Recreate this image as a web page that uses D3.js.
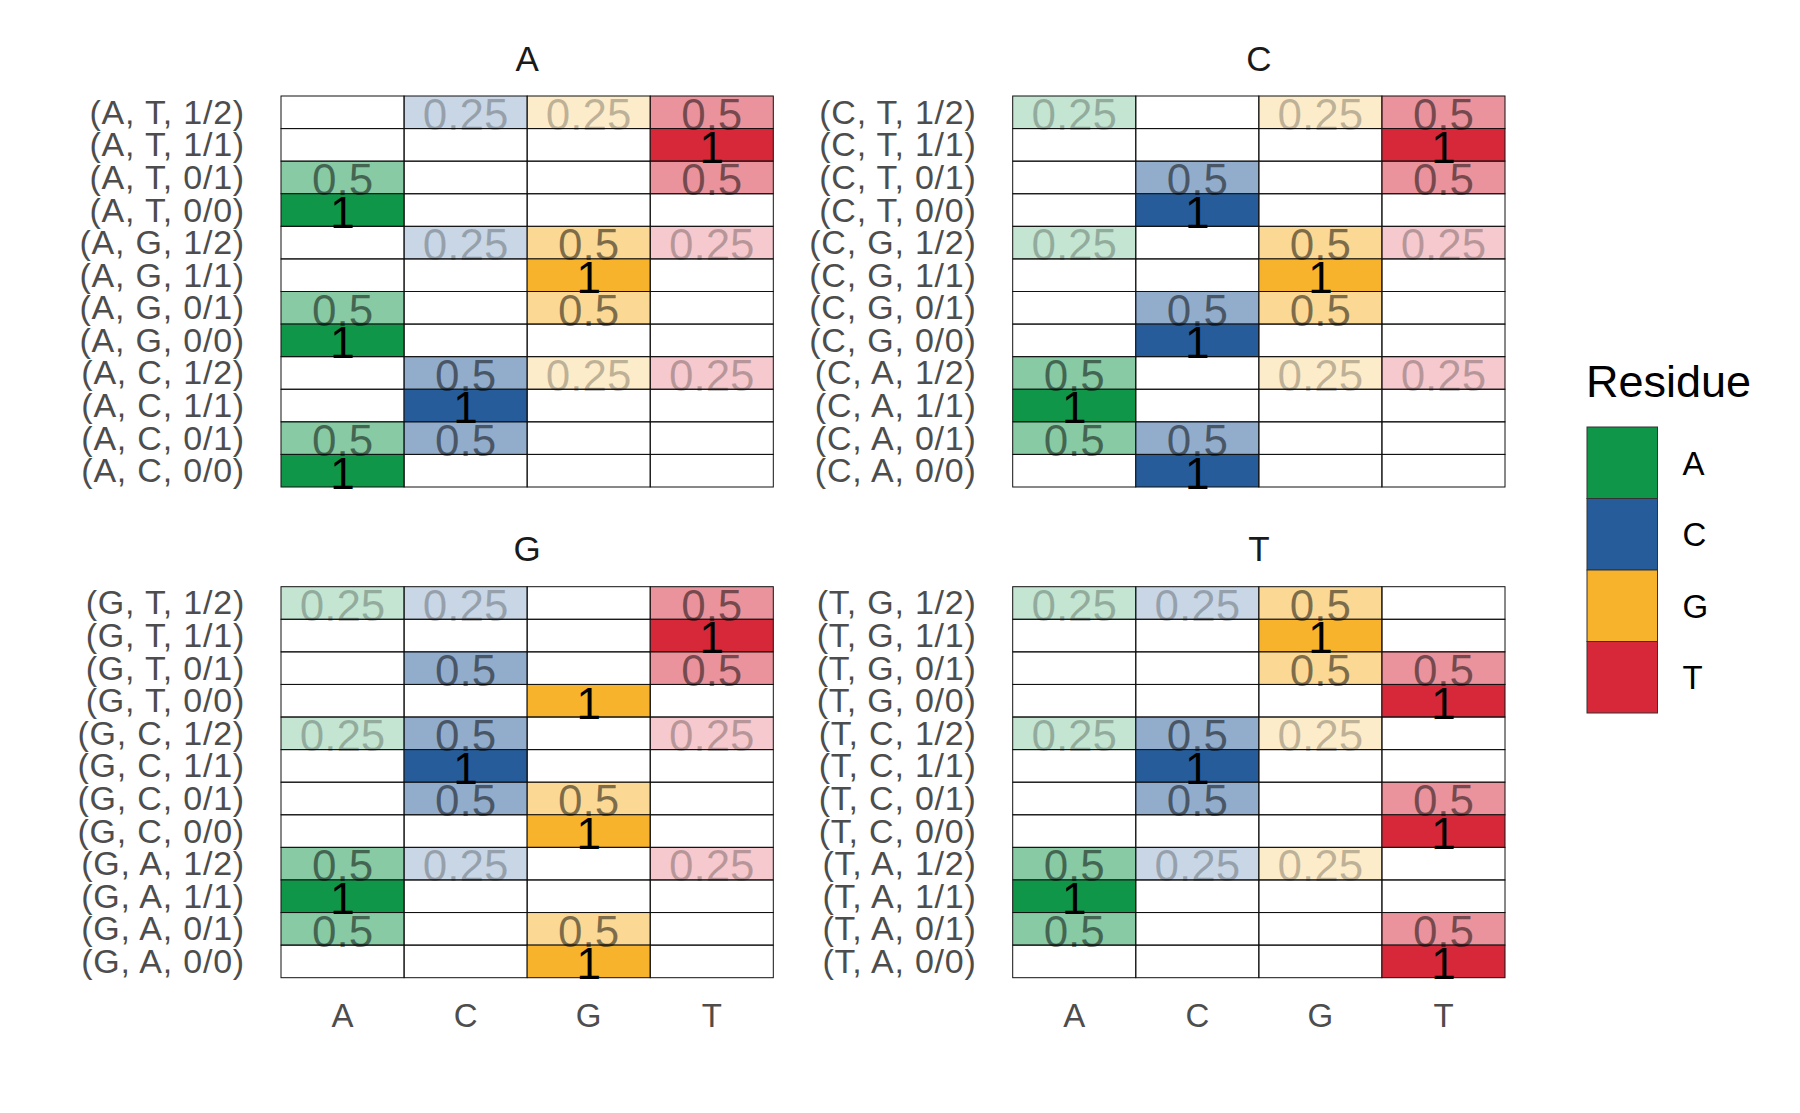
<!DOCTYPE html>
<html>
<head>
<meta charset="utf-8">
<script src="https://cdn.jsdelivr.net/npm/d3@7"></script>
<style>
  html, body { margin: 0; padding: 0; background: #fff; }
  svg text { font-family: "Liberation Sans", Arial, Helvetica, sans-serif; }
</style>
</head>
<body>
<svg id="chart" width="1800" height="1113"></svg>
<script>
// ---------------- DATA ----------------
const residues = ["A", "C", "G", "T"];
const residueColors = ["#109648", "#255C99", "#F7B32B", "#D62839"];
const panels = ["A", "C", "G", "T"];

const rowLabelsA = ["(A, T, 1/2)", "(A, T, 1/1)", "(A, T, 0/1)", "(A, T, 0/0)",
                    "(A, G, 1/2)", "(A, G, 1/1)", "(A, G, 0/1)", "(A, G, 0/0)",
                    "(A, C, 1/2)", "(A, C, 1/1)", "(A, C, 0/1)", "(A, C, 0/0)"];
const rowLabelsC = ["(C, T, 1/2)", "(C, T, 1/1)", "(C, T, 0/1)", "(C, T, 0/0)",
                    "(C, G, 1/2)", "(C, G, 1/1)", "(C, G, 0/1)", "(C, G, 0/0)",
                    "(C, A, 1/2)", "(C, A, 1/1)", "(C, A, 0/1)", "(C, A, 0/0)"];
const rowLabelsG = ["(G, T, 1/2)", "(G, T, 1/1)", "(G, T, 0/1)", "(G, T, 0/0)",
                    "(G, C, 1/2)", "(G, C, 1/1)", "(G, C, 0/1)", "(G, C, 0/0)",
                    "(G, A, 1/2)", "(G, A, 1/1)", "(G, A, 0/1)", "(G, A, 0/0)"];
const rowLabelsT = ["(T, G, 1/2)", "(T, G, 1/1)", "(T, G, 0/1)", "(T, G, 0/0)",
                    "(T, C, 1/2)", "(T, C, 1/1)", "(T, C, 0/1)", "(T, C, 0/0)",
                    "(T, A, 1/2)", "(T, A, 1/1)", "(T, A, 0/1)", "(T, A, 0/0)"];

// values per row, columns in order A, C, G, T
const valuesA = [[0, .25, .25, .5], [0, 0, 0, 1], [.5, 0, 0, .5], [1, 0, 0, 0],
                 [0, .25, .5, .25], [0, 0, 1, 0], [.5, 0, .5, 0], [1, 0, 0, 0],
                 [0, .5, .25, .25], [0, 1, 0, 0], [.5, .5, 0, 0], [1, 0, 0, 0]];
const valuesC = [[.25, 0, .25, .5], [0, 0, 0, 1], [0, .5, 0, .5], [0, 1, 0, 0],
                 [.25, 0, .5, .25], [0, 0, 1, 0], [0, .5, .5, 0], [0, 1, 0, 0],
                 [.5, 0, .25, .25], [1, 0, 0, 0], [.5, .5, 0, 0], [0, 1, 0, 0]];
const valuesG = [[.25, .25, 0, .5], [0, 0, 0, 1], [0, .5, 0, .5], [0, 0, 1, 0],
                 [.25, .5, 0, .25], [0, 1, 0, 0], [0, .5, .5, 0], [0, 0, 1, 0],
                 [.5, .25, 0, .25], [1, 0, 0, 0], [.5, 0, .5, 0], [0, 0, 1, 0]];
const valuesT = [[.25, .25, .5, 0], [0, 0, 1, 0], [0, 0, .5, .5], [0, 0, 0, 1],
                 [.25, .5, .25, 0], [0, 1, 0, 0], [0, .5, 0, .5], [0, 0, 0, 1],
                 [.5, .25, .25, 0], [1, 0, 0, 0], [.5, 0, 0, .5], [0, 0, 0, 1]];

const panelRowLabels = [rowLabelsA, rowLabelsC, rowLabelsG, rowLabelsT];
const panelValues = [valuesA, valuesC, valuesG, valuesT];

// ---------------- LAYOUT ----------------
const svg = d3.select("#chart");
const colLefts = [281, 1012.7];
const rowTops = [96, 586.7];
const pW = 492.3, pH = 391;

const color = d3.scaleOrdinal().domain(residues).range(residueColors);
const fmt = v => (v === 1 ? "1" : String(v));

panels.forEach((p, i) => {
  const px = colLefts[i % 2], py = rowTops[Math.floor(i / 2)];
  const labels = panelRowLabels[i];
  const vals = panelValues[i];
  const x = d3.scaleBand().domain(residues).range([px, px + pW]).padding(0);
  const y = d3.scaleBand().domain(labels).range([py, py + pH]).padding(0);

  const cells = [];
  labels.forEach((lab, r) => residues.forEach((res, c) => cells.push({lab, res, v: vals[r][c]})));

  const g = svg.append("g");
  g.selectAll("rect.bg").data(cells).join("rect")
    .attr("x", d => x(d.res)).attr("y", d => y(d.lab))
    .attr("width", x.bandwidth()).attr("height", y.bandwidth())
    .attr("fill", "#fff");
  g.selectAll("rect.cell").data(cells).join("rect")
    .attr("class", "cell")
    .attr("x", d => x(d.res)).attr("y", d => y(d.lab))
    .attr("width", x.bandwidth()).attr("height", y.bandwidth())
    .attr("fill", d => color(d.res))
    .attr("fill-opacity", d => d.v)
    .attr("stroke", "#111").attr("stroke-width", 1);

  // value labels
  g.selectAll("text.val").data(cells.filter(d => d.v > 0)).join("text")
    .attr("class", "val")
    .attr("x", d => x(d.res) + x.bandwidth() / 2)
    .attr("y", d => y(d.lab) + y.bandwidth() + 1.5)
    .attr("text-anchor", "middle")
    .attr("font-size", 44)
    .attr("fill", "#000")
    .attr("fill-opacity", d => d.v)
    .text(d => fmt(d.v));

  // y axis labels
  g.selectAll("text.ylab").data(labels).join("text")
    .attr("class", "ylab")
    .attr("x", px - 36)
    .attr("y", d => y(d) + y.bandwidth() / 2 + 11.5)
    .attr("text-anchor", "end")
    .attr("font-size", 34)
    .attr("letter-spacing", 0.8)
    .attr("fill", "#4d4d4d")
    .text(d => d);

  // facet title
  g.append("text")
    .attr("x", px + pW / 2).attr("y", py - 25.3)
    .attr("text-anchor", "middle")
    .attr("font-size", 35)
    .attr("fill", "#1a1a1a")
    .text(p);

  // x axis labels for bottom row
  if (Math.floor(i / 2) === 1) {
    g.selectAll("text.xlab").data(residues).join("text")
      .attr("class", "xlab")
      .attr("x", d => x(d) + x.bandwidth() / 2)
      .attr("y", 1026.7)
      .attr("text-anchor", "middle")
      .attr("font-size", 33)
      .attr("fill", "#4d4d4d")
      .text(d => d);
  }
});

// ---------------- LEGEND ----------------
const legX = 1587, legY = 427, keyW = 70.5, keyH = 71.5;
const leg = svg.append("g");
leg.append("text").attr("x", legX - 1).attr("y", 396.7)
  .attr("font-size", 45).attr("fill", "#000").text("Residue");
const ly = d3.scaleBand().domain(residues).range([legY, legY + keyH * residues.length]);
leg.selectAll("rect").data(residues).join("rect")
  .attr("x", legX).attr("y", d => ly(d))
  .attr("width", keyW).attr("height", ly.bandwidth())
  .attr("fill", d => color(d))
  .attr("stroke", "#333").attr("stroke-width", 1);
leg.selectAll("text.lk").data(residues).join("text")
  .attr("class", "lk")
  .attr("x", legX + keyW + 25)
  .attr("y", d => ly(d) + ly.bandwidth() / 2 + 11.8)
  .attr("font-size", 33).attr("fill", "#000")
  .text(d => d);
</script>
</body>
</html>
